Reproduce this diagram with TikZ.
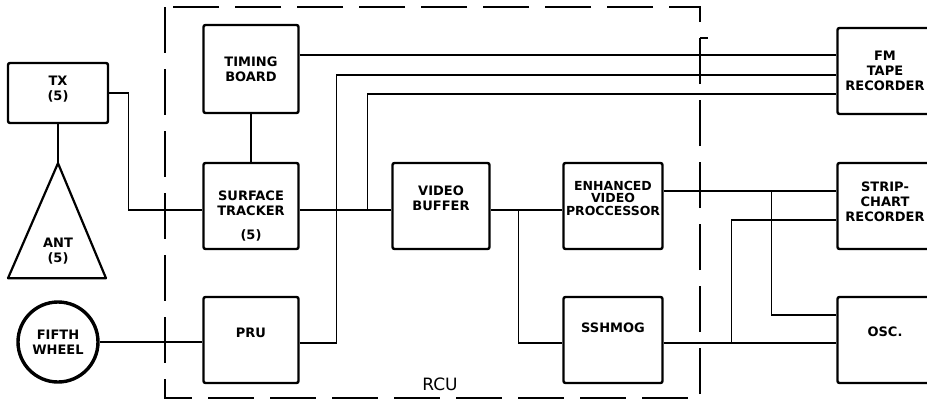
\documentclass[tikz,border=0pt]{standalone}
\usepackage{fontspec}
\newfontfamily\blkfont{DejaVu Sans}
\usetikzlibrary{calc,positioning}

\begin{document}
\begin{tikzpicture}[
    x=1pt, y=-1pt,
    lbl/.style  = {align=center, inner sep=1pt,
                   font=\blkfont\bfseries\fontsize{13}{15}\selectfont},
    blk/.style  = {lbl, draw, line width=2.4pt, rounded corners=2pt,
                   minimum width=95pt, minimum height=86pt},
    wire/.style = {line width=1.1pt},
    rcu/.style  = {line width=1.8pt, dash pattern=on 46pt off 16pt}
  ]
  \useasboundingbox (0,0) rectangle (927,408);
  \clip (0,0) rectangle (927,408);

  \coordinate (origin) at (0,0);

  % RCU frame
  \draw[rcu] ($(origin)+(165,7)$) rectangle ($(origin)+(700,398)$);
  \draw[wire] ($(origin)+(700,38)$) -- ++(8,0);
  \node[font=\blkfont\fontsize{17}{17}\selectfont] (RCU) at ($(origin)+(440,384)$) {RCU};

  \node[blk, minimum height=88pt] (TB) at ($(origin)+(251,69)$) {TIMING\\BOARD};
  \node[blk] (ST)  at ($(TB)+(0,137)$) {};
  \node[lbl] (STlbl) at ($(ST)+(0,10)$) {SURFACE\\TRACKER\\[9pt](5)};
  \node[blk] (PRU) at ($(TB)+(0,271)$) {};
  \node[lbl] (PRUlbl) at ($(PRU)+(0,-7)$) {PRU};

  \node[blk, minimum width=97pt] (VB)  at ($(ST)+(190,0)$) {};
  \node[lbl] (VBlbl) at ($(VB)+(0,-8)$) {VIDEO\\BUFFER};
  \node[blk, minimum width=99pt] (EVP) at ($(ST)+(362,0)$) {};
  \node[lbl, font=\blkfont\bfseries\fontsize{12.5}{12.5}\selectfont] (EVPlbl)
       at ($(EVP)+(0,-8)$) {ENHANCED\\VIDEO\\PROCCESSOR};
  \node[blk, minimum width=99pt] (SSH) at ($(PRU)+(362,0)$) {};
  \node[lbl] (SSHlbl) at ($(SSH)+(0,-12)$) {SSHMOG};

  \node[blk] (FM)    at ($(TB)+(634,2)$)  {FM\\TAPE\\RECORDER};
  \node[blk] (STRIP) at ($(ST)+(634,0)$)  {};
  \node[lbl] (STRIPlbl) at ($(STRIP)+(0,-4)$) {STRIP-\\CHART\\RECORDER};
  \node[blk] (OSC)   at ($(PRU)+(634,0)$) {};
  \node[lbl] (OSClbl) at ($(OSC)+(0,-8)$) {OSC.};

  % outside the RCU
  \node[blk, minimum width=100pt, minimum height=60pt] (TX) at ($(origin)+(58,93)$) {};
  \node[lbl] (TXlbl) at ($(TX)+(0,-4)$) {TX\\(5)};

  \coordinate (ANTtop) at ($(TX.south)+(0,39)$);
  \draw[line width=2.2pt, line join=round] (ANTtop) -- ++(-50,115) -- ++(98,0) -- cycle;
  \node[lbl] (ANT) at ($(ANTtop)+(0,88)$) {ANT\\(5)};

  \node[lbl, circle, draw, line width=3.4pt, minimum size=80pt] (WHL) at ($(origin)+(58,342)$) {FIFTH\\WHEEL};

  % connections
  \draw[wire] (TX.south) -- (ANTtop);
  \draw[wire] (TX.east) -- ++(19,0) |- ([yshift=-4pt]ST.west);
  \draw[wire] (TB) -- (ST);
  \draw[wire] (WHL.east) -- (WHL.east -| PRU.west);
  \draw[wire] ([yshift=-4pt]ST.east) -- ([yshift=-4pt]VB.west);
  \draw[wire] ([yshift=-4pt]VB.east) -- ([yshift=-4pt]EVP.west);
  \draw[wire] ([yshift=-3pt]SSH.east) -- ([yshift=-3pt]OSC.west);

  \draw[wire] ([yshift=14pt]TB.east) -- ([yshift=14pt]TB.east -| FM.west);
  \draw[wire] ([yshift=-3pt]PRU.east) -- ++(37,0) |- ([yshift=-4pt]FM.west);

  \coordinate (j1) at ($([yshift=-4pt]ST.east)+(68,0)$);
  \draw[wire] (j1) |- ([yshift=-23pt]FM.west);

  \coordinate (j2) at ($([yshift=-4pt]VB.east)+(28,0)$);
  \draw[wire] (j2) |- ([yshift=-3pt]SSH.west);

  \draw[wire] ([yshift=15pt]EVP.east) -- ([yshift=15pt]EVP.east -| STRIP.west);
  \coordinate (j3) at ($([yshift=15pt]EVP.east)+(108,0)$);
  \draw[wire] (j3) |- ([yshift=25pt]OSC.west);

  \coordinate (j4) at ($([yshift=-3pt]SSH.east)+(68,0)$);
  \draw[wire] (j4) |- ([yshift=-14pt]STRIP.west);

\end{tikzpicture}
\end{document}
